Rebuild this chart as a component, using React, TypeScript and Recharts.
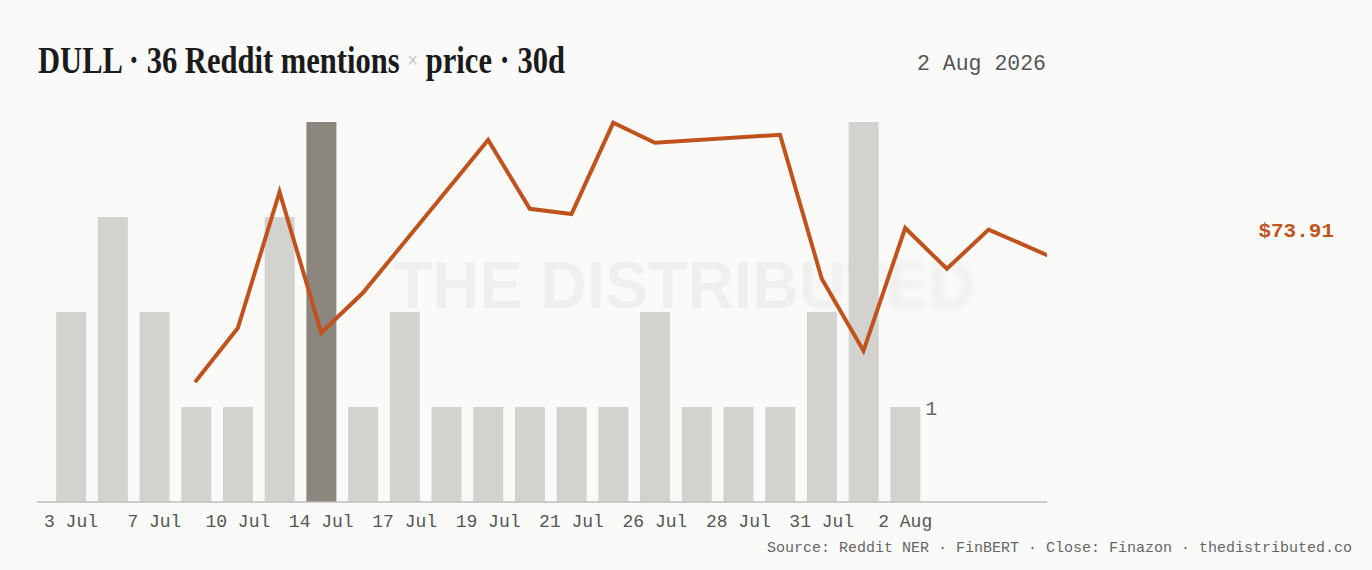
import React, { useLayoutEffect, useRef, useState } from "react";
import { Bar, Cell, ComposedChart, Customized, LabelList, Line, XAxis, YAxis } from "recharts";

const TICKER = "DULL";
const AS_OF = "2 Aug 2026";
const WINDOW_DAYS = 30;
const SOURCE = "Source: Reddit NER · FinBERT · Close: Finazon · thedistributed.co";

// one bar per day with mentions, every second bar gets a label
const TICK_LABELS = ["3 Jul", "7 Jul", "10 Jul", "14 Jul", "17 Jul", "19 Jul", "21 Jul", "26 Jul", "28 Jul", "31 Jul", "2 Aug"];
const MENTIONS = [2, 3, 2, 1, 1, 3, 4, 1, 2, 1, 1, 1, 1, 1, 2, 1, 1, 1, 2, 4, 1];
const PEAK_AT = 6;
// close per slot, null where there is no close
const CLOSE = [
  null, null, null, 70.13, 71.45, 74.85, 71.33, 72.33, null, null, 76.15, 74.43, 74.3,
  76.58, 76.08, null, null, 76.28, 72.68, 70.88, 73.95, 72.93, 73.91, null, 73.0,
];
const LAST_CLOSE_AT = 22;

const BG = "#fafaf8";
const BAR = "#d3d2ce";
const BAR_PEAK = "#8b867e";
const PRICE = "#c0531d";
const MONO = "'Liberation Mono', 'DejaVu Sans Mono', monospace";
const SERIF = "'Liberation Serif', serif";
const TITLE_W = 527;

const total = MENTIONS.reduce((s, v) => s + v, 0);
const rows = CLOSE.map((c, i) => ({ i, mentions: MENTIONS[i] ?? null, close: c }));
const ticks = TICK_LABELS.map((_, k) => k * 2);

function Tick({ x, y, payload }: any) {
  return (
    <text x={x} y={y + 25} textAnchor="middle" fontFamily={MONO} fontSize={18} fill="#555">
      {TICK_LABELS[payload.value / 2]}
    </text>
  );
}

function Watermark() {
  const txt = (extra: any) => (
    <text x={393} y={308} fontFamily="'Liberation Sans', Arial, sans-serif" fontWeight={700} fontSize={66}
      textLength={582} lengthAdjust="spacingAndGlyphs" fill="#000" fillOpacity={0.042} {...extra}>
      THE DISTRIBUTED
    </text>
  );
  return (
    <g pointerEvents="none">
      <defs>
        <linearGradient id="wmL" gradientUnits="userSpaceOnUse" x1={790} x2={870} y1={0} y2={0}>
          <stop offset="0" stopColor="#fff" />
          <stop offset="1" stopColor="#000" />
        </linearGradient>
        <linearGradient id="wmR" gradientUnits="userSpaceOnUse" x1={790} x2={870} y1={0} y2={0}>
          <stop offset="0" stopColor="#000" />
          <stop offset="1" stopColor="#fff" />
        </linearGradient>
        <mask id="wmMaskL" maskUnits="userSpaceOnUse" x={0} y={0} width={1372} height={570}>
          <rect x={0} y={0} width={1372} height={570} fill="url(#wmL)" />
        </mask>
        <mask id="wmMaskR" maskUnits="userSpaceOnUse" x={0} y={0} width={1372} height={570}>
          <rect x={0} y={0} width={1372} height={570} fill="url(#wmR)" />
        </mask>
        <filter id="wmBlur" x="-10%" y="-50%" width="120%" height="200%">
          <feGaussianBlur stdDeviation={3.5} />
        </filter>
      </defs>
      <g mask="url(#wmMaskL)">{txt({})}</g>
      <g mask="url(#wmMaskR)">{txt({ filter: "url(#wmBlur)" })}</g>
    </g>
  );
}

function Title() {
  const ref = useRef<SVGTextElement>(null);
  const [sx, setSx] = useState(0.81);
  useLayoutEffect(() => {
    const w = ref.current?.getComputedTextLength();
    if (w) setSx(TITLE_W / w);
  }, []);
  return (
    <g transform={`translate(38,73) scale(${sx},1)`}>
      <text ref={ref} x={0} y={0} fontFamily={SERIF} fontWeight={700} fontSize={38} fill="#1b1b1b">
        {`${TICKER} · ${total} Reddit mentions `}
        <tspan fill="#bcbcb8" fontWeight={400} fontSize={24} dy={-5}>×</tspan>
        <tspan dy={5}>{` price · ${WINDOW_DAYS}d`}</tspan>
      </text>
    </g>
  );
}

export default function App() {
  return (
    <div style={{ position: "absolute", left: 0, top: 0, width: 1372, height: 570, background: BG, overflow: "hidden" }}>
      <svg width={1372} height={570} style={{ position: "absolute", left: 0, top: 0 }}>
        <Title />
        <text x={1046} y={70} textAnchor="end" fontFamily={MONO} fontSize={21.5} fill="#555">{AS_OF}</text>
        <text x={1352} y={552} textAnchor="end" fontFamily={MONO} fontSize={15} fill="#666">{SOURCE}</text>
      </svg>
      <div style={{ position: "absolute", left: 0, top: 0 }}>
        <ComposedChart width={1372} height={570} data={rows} margin={{ top: 122, right: 325, bottom: 38, left: 37 }}>
          <XAxis dataKey="i" type="number" domain={[-0.815, 23.4]} allowDataOverflow ticks={ticks} interval={0}
            tick={<Tick />} tickLine={false} tickSize={0} tickMargin={0} height={30}
            axisLine={{ stroke: "#bcbcb8", strokeWidth: 1.5 }} />
          <YAxis yAxisId="m" hide domain={[0, 4]} />
          <YAxis yAxisId="p" hide domain={[67.1, 76.6]} />
          <Bar yAxisId="m" dataKey="mentions" barSize={30} fill={BAR} isAnimationActive={false}>
            {rows.map((r) => (
              <Cell key={r.i} fill={r.i === PEAK_AT ? BAR_PEAK : BAR} />
            ))}
            <LabelList dataKey="mentions" content={(p: any) =>
              p.index === MENTIONS.length - 1 ? (
                <text x={p.x + p.width + 5} y={p.y + 8} fontFamily={MONO} fontSize={20} fill="#666">{p.value}</text>
              ) : null} />
          </Bar>
          <Customized component={<Watermark />} />
          <Line yAxisId="p" dataKey="close" type="linear" stroke={PRICE} strokeWidth={4} strokeLinecap="round"
            dot={false} activeDot={false} connectNulls isAnimationActive={false}>
            <LabelList dataKey="close" content={(p: any) =>
              p.index === LAST_CLOSE_AT ? (
                <text x={1334} y={p.y + 7} textAnchor="end" fontFamily={MONO} fontWeight={700} fontSize={21} fill={PRICE}>
                  ${Number(p.value).toFixed(2)}
                </text>
              ) : null} />
          </Line>
        </ComposedChart>
      </div>
    </div>
  );
}
